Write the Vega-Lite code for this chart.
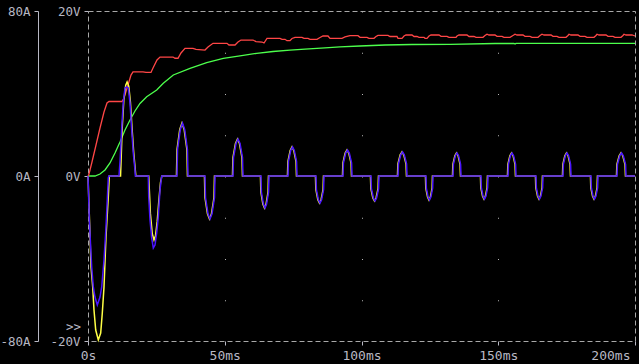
{
  "$schema": "https://vega.github.io/schema/vega-lite/v6.json",
  "width": 547,
  "height": 330,
  "autosize": {"type": "none"},
  "padding": {"left": 88, "top": 11, "right": 4, "bottom": 23},
  "background": "#000000",
  "config": {
    "view": {"stroke": "#a8a8a8", "strokeDash": [5, 3], "strokeWidth": 1},
    "axis": {
      "labelFont": "DejaVu Sans Mono",
      "labelFontSize": 12.5,
      "labelColor": "#b8b8c4",
      "tickColor": "#b8b8c4",
      "domainColor": "#b8b8c4",
      "tickSize": 4,
      "labelPadding": 4,
      "titleFont": "DejaVu Sans Mono",
      "titleColor": "#b8b8c4"
    }
  },
  "datasets": {
    "green": [
      {"t":0,"v":0},{"t":2.56,"v":0},{"t":4.39,"v":0.24},{"t":6.22,"v":0.73},{"t":8.04,"v":1.58},{"t":9.87,"v":2.79},{"t":11.70,"v":4.12},{"t":13.53,"v":5.58},{"t":15.36,"v":6.79},{"t":17.18,"v":7.88},{"t":19.01,"v":8.79},{"t":21.46,"v":9.61},{"t":25.12,"v":10.42},{"t":27.53,"v":11.24},{"t":31.19,"v":12.24},{"t":37.29,"v":13.05},{"t":43.40,"v":13.73},{"t":49.47,"v":14.27},{"t":55.57,"v":14.55},{"t":61.68,"v":14.87},{"t":67.64,"v":15.09},{"t":73.86,"v":15.27},{"t":79.34,"v":15.39},{"t":86.65,"v":15.52},{"t":92.14,"v":15.64},{"t":99.45,"v":15.76},{"t":108.59,"v":15.88},{"t":118.46,"v":15.94},{"t":132.36,"v":15.96},{"t":148.81,"v":16.06},{"t":155.76,"v":16.06},{"t":156.13,"v":16.00},{"t":156.49,"v":16.08},{"t":200,"v":16.08}
    ],
    "red": [
      {"t":0,"v":0},{"t":0.37,"v":0.24},{"t":1.46,"v":1.70},{"t":2.93,"v":3.76},{"t":4.39,"v":5.82},{"t":5.85,"v":7.76},{"t":6.95,"v":8.85},{"t":7.68,"v":9.03},{"t":12.43,"v":9.03},{"t":13.16,"v":9.45},{"t":14.63,"v":11.03},{"t":15.72,"v":12.24},{"t":16.45,"v":12.61},{"t":20.11,"v":12.61},{"t":21.21,"v":12.55},{"t":23.03,"v":12.55},{"t":23.77,"v":13.09},{"t":25.23,"v":14.06},{"t":26.33,"v":14.42},{"t":31.08,"v":14.42},{"t":31.81,"v":14.27},{"t":32.91,"v":14.27},{"t":34.00,"v":14.91},{"t":35.47,"v":15.48},{"t":38.39,"v":15.48},{"t":39.49,"v":15.36},{"t":42.78,"v":15.27},{"t":43.88,"v":15.64},{"t":45.70,"v":16.08},{"t":50.82,"v":16.08},{"t":51.55,"v":15.88},{"t":53.75,"v":15.88},{"t":54.84,"v":16.24},{"t":55.94,"v":16.48},{"t":60.33,"v":16.48},{"t":61.43,"v":16.28},{"t":63.62,"v":16.24},{"t":64.35,"v":16.12},{"t":65.45,"v":16.69},{"t":70.20,"v":16.69},{"t":70.93,"v":16.57},{"t":72.03,"v":16.57},{"t":72.76,"v":16.40},{"t":73.86,"v":16.40},{"t":74.59,"v":16.67},{"t":75.69,"v":16.81},{"t":78.24,"v":16.81},{"t":78.98,"v":16.69},{"t":80.44,"v":16.69},{"t":81.17,"v":16.57},{"t":83.73,"v":16.57},{"t":84.83,"v":16.79},{"t":85.92,"v":16.97},{"t":87.75,"v":16.97},{"t":88.48,"v":16.69},{"t":92.87,"v":16.69},{"t":93.97,"v":16.85},{"t":95.80,"v":17.01},{"t":98.72,"v":17.01},{"t":99.45,"v":16.81},{"t":102.01,"v":16.81},{"t":102.74,"v":16.69},{"t":104.57,"v":16.69},{"t":105.30,"v":16.91},{"t":106.03,"v":17.05},{"t":109.69,"v":17.05},{"t":110.42,"v":16.91},{"t":112.98,"v":16.91},{"t":113.35,"v":16.69},{"t":114.81,"v":16.69},{"t":115.54,"v":16.97},{"t":116.27,"v":17.09},{"t":118.46,"v":17.09},{"t":119.20,"v":16.91},{"t":120.29,"v":16.91},{"t":121.02,"v":16.81},{"t":122.85,"v":16.81},{"t":123.22,"v":16.69},{"t":123.95,"v":16.69},{"t":124.68,"v":16.97},{"t":125.41,"v":17.09},{"t":128.34,"v":17.09},{"t":129.07,"v":16.93},{"t":131.26,"v":16.93},{"t":131.99,"v":16.81},{"t":134.55,"v":16.81},{"t":134.92,"v":16.97},{"t":135.65,"v":17.09},{"t":138.57,"v":17.09},{"t":139.31,"v":16.91},{"t":141.13,"v":16.91},{"t":141.86,"v":16.81},{"t":144.42,"v":16.81},{"t":145.15,"v":17.03},{"t":145.89,"v":17.18},{"t":146.62,"v":17.09},{"t":148.81,"v":17.09},{"t":149.54,"v":16.93},{"t":151.37,"v":16.93},{"t":152.10,"v":16.81},{"t":154.30,"v":16.81},{"t":155.39,"v":17.03},{"t":156.13,"v":17.18},{"t":156.86,"v":17.09},{"t":159.05,"v":17.09},{"t":159.78,"v":16.93},{"t":161.61,"v":16.93},{"t":162.34,"v":16.81},{"t":164.53,"v":16.81},{"t":165.27,"v":17.03},{"t":166.00,"v":17.18},{"t":166.73,"v":17.09},{"t":169.29,"v":17.09},{"t":170.02,"v":16.93},{"t":171.48,"v":16.93},{"t":172.21,"v":16.81},{"t":174.77,"v":16.81},{"t":175.50,"v":17.03},{"t":175.87,"v":17.18},{"t":176.60,"v":17.09},{"t":179.16,"v":17.09},{"t":179.89,"v":16.93},{"t":181.72,"v":16.93},{"t":182.45,"v":16.81},{"t":185.01,"v":16.81},{"t":185.74,"v":17.03},{"t":186.11,"v":17.18},{"t":186.84,"v":17.09},{"t":189.40,"v":17.09},{"t":190.13,"v":16.93},{"t":191.96,"v":16.93},{"t":192.69,"v":16.81},{"t":194.88,"v":16.81},{"t":195.61,"v":17.03},{"t":195.98,"v":17.18},{"t":196.71,"v":17.09},{"t":198.90,"v":17.09},{"t":200,"v":16.97}
    ],
    "yellow": [
      {"t":0,"v":0},{"t":0.55,"v":-5.33},{"t":1.10,"v":-11.03},{"t":1.72,"v":-13.45},{"t":2.19,"v":-16.24},{"t":2.82,"v":-18.67},{"t":3.77,"v":-19.88},{"t":4.64,"v":-19.03},{"t":5.23,"v":-16.61},{"t":5.85,"v":-13.45},{"t":6.58,"v":-7.39},{"t":7.42,"v":-2.55},{"t":7.79,"v":0},
      {"t":11.9,"v":0},{"t":12.5,"v":5.8},{"t":13.1,"v":9.2},{"t":13.8,"v":11.0},{"t":14.3,"v":11.39},{"t":14.9,"v":10.9},{"t":15.5,"v":9.0},{"t":16.1,"v":5.8},{"t":16.7,"v":2.9},{"t":17.3,"v":0.7},{"t":17.5,"v":0},
      {"t":22.2,"v":0},{"t":22.8,"v":-4.5},{"t":23.5,"v":-7.0},{"t":24.13,"v":-7.76},{"t":24.7,"v":-7.2},{"t":25.3,"v":-5.5},{"t":25.9,"v":-3.0},{"t":26.5,"v":-0.8},{"t":27.0,"v":0},
      {"t":32.34,"v":0},{"t":32.54,"v":3.21},{"t":33.55,"v":5.65},{"t":34.35,"v":6.42},{"t":35.15,"v":5.65},{"t":36.16,"v":3.21},{"t":36.36,"v":0},
      {"t":42.58,"v":0},{"t":42.76,"v":-2.61},{"t":43.68,"v":-4.58},{"t":44.41,"v":-5.21},{"t":45.14,"v":-4.58},{"t":46.06,"v":-2.61},{"t":46.24,"v":0},
      {"t":52.82,"v":0},{"t":53.00,"v":2.24},{"t":53.92,"v":3.94},{"t":54.65,"v":4.48},{"t":55.38,"v":3.94},{"t":56.29,"v":2.24},{"t":56.47,"v":0},
      {"t":63.05,"v":0},{"t":63.20,"v":-1.94},{"t":63.93,"v":-3.41},{"t":64.52,"v":-3.88},{"t":65.10,"v":-3.41},{"t":65.83,"v":-1.94},{"t":65.98,"v":0},
      {"t":72.93,"v":0},{"t":73.09,"v":1.76},{"t":73.92,"v":3.10},{"t":74.58,"v":3.52},{"t":75.23,"v":3.10},{"t":76.06,"v":1.76},{"t":76.22,"v":0},
      {"t":83.16,"v":0},{"t":83.31,"v":-1.64},{"t":84.04,"v":-2.88},{"t":84.63,"v":-3.27},{"t":85.21,"v":-2.88},{"t":85.94,"v":-1.64},{"t":86.09,"v":0},
      {"t":93.04,"v":0},{"t":93.20,"v":1.58},{"t":94.03,"v":2.77},{"t":94.69,"v":3.15},{"t":95.34,"v":2.77},{"t":96.17,"v":1.58},{"t":96.33,"v":0},
      {"t":103.27,"v":0},{"t":103.42,"v":-1.52},{"t":104.15,"v":-2.67},{"t":104.74,"v":-3.03},{"t":105.32,"v":-2.67},{"t":106.05,"v":-1.52},{"t":106.20,"v":0},
      {"t":113.15,"v":0},{"t":113.31,"v":1.46},{"t":114.14,"v":2.56},{"t":114.80,"v":2.91},{"t":115.45,"v":2.56},{"t":116.28,"v":1.46},{"t":116.44,"v":0},
      {"t":123.38,"v":0},{"t":123.51,"v":-1.46},{"t":124.15,"v":-2.56},{"t":124.66,"v":-2.91},{"t":125.17,"v":-2.56},{"t":125.81,"v":-1.46},{"t":125.94,"v":0},
      {"t":133.26,"v":0},{"t":133.41,"v":1.40},{"t":134.14,"v":2.46},{"t":134.72,"v":2.79},{"t":135.30,"v":2.46},{"t":136.03,"v":1.40},{"t":136.18,"v":0},
      {"t":143.49,"v":0},{"t":143.62,"v":-1.40},{"t":144.26,"v":-2.46},{"t":144.77,"v":-2.79},{"t":145.28,"v":-2.46},{"t":145.92,"v":-1.40},{"t":146.05,"v":0},
      {"t":153.37,"v":0},{"t":153.52,"v":1.40},{"t":154.25,"v":2.46},{"t":154.83,"v":2.79},{"t":155.41,"v":2.46},{"t":156.14,"v":1.40},{"t":156.29,"v":0},
      {"t":163.60,"v":0},{"t":163.73,"v":-1.40},{"t":164.37,"v":-2.46},{"t":164.88,"v":-2.79},{"t":165.39,"v":-2.46},{"t":166.03,"v":-1.40},{"t":166.16,"v":0},
      {"t":173.47,"v":0},{"t":173.62,"v":1.40},{"t":174.35,"v":2.46},{"t":174.94,"v":2.79},{"t":175.52,"v":2.46},{"t":176.25,"v":1.40},{"t":176.40,"v":0},
      {"t":183.71,"v":0},{"t":183.84,"v":-1.40},{"t":184.48,"v":-2.46},{"t":184.99,"v":-2.79},{"t":185.50,"v":-2.46},{"t":186.14,"v":-1.40},{"t":186.27,"v":0},
      {"t":193.22,"v":0},{"t":193.38,"v":1.40},{"t":194.21,"v":2.46},{"t":194.87,"v":2.79},{"t":195.52,"v":2.46},{"t":196.35,"v":1.40},{"t":196.51,"v":0},
      {"t":200,"v":0}
    ],
    "blue": [
      {"t":0,"v":0},{"t":0.48,"v":-5.33},{"t":1.35,"v":-11.03},{"t":1.94,"v":-13.45},{"t":2.56,"v":-14.67},{"t":3.40,"v":-15.64},{"t":4.39,"v":-14.67},{"t":5.01,"v":-13.45},{"t":5.85,"v":-10.18},{"t":6.58,"v":-6.18},{"t":7.42,"v":-0.24},{"t":7.6,"v":0},
      {"t":11.33,"v":0},{"t":11.75,"v":2.0},{"t":12.32,"v":5.82},{"t":12.91,"v":8.97},{"t":13.53,"v":10.67},{"t":14.15,"v":10.79},{"t":14.73,"v":10.67},{"t":15.36,"v":8.85},{"t":15.98,"v":5.58},{"t":16.56,"v":2.79},{"t":17.18,"v":0.73},{"t":17.3,"v":0},
      {"t":22.05,"v":0},{"t":22.2,"v":-2.55},{"t":22.67,"v":-5.33},{"t":23.29,"v":-7.52},{"t":23.88,"v":-8.73},{"t":24.50,"v":-8.36},{"t":25.12,"v":-6.91},{"t":25.70,"v":-4.97},{"t":26.33,"v":-1.70},{"t":26.95,"v":0},
      {"t":32.54,"v":0},{"t":32.74,"v":3.21},{"t":33.75,"v":5.65},{"t":34.55,"v":6.42},{"t":35.35,"v":5.65},{"t":36.36,"v":3.21},{"t":36.56,"v":0},
      {"t":42.78,"v":0},{"t":42.96,"v":-2.61},{"t":43.88,"v":-4.58},{"t":44.61,"v":-5.21},{"t":45.34,"v":-4.58},{"t":46.26,"v":-2.61},{"t":46.44,"v":0},
      {"t":53.02,"v":0},{"t":53.20,"v":2.24},{"t":54.12,"v":3.94},{"t":54.85,"v":4.48},{"t":55.58,"v":3.94},{"t":56.49,"v":2.24},{"t":56.67,"v":0},
      {"t":63.25,"v":0},{"t":63.40,"v":-1.94},{"t":64.13,"v":-3.41},{"t":64.72,"v":-3.88},{"t":65.30,"v":-3.41},{"t":66.03,"v":-1.94},{"t":66.18,"v":0},
      {"t":73.13,"v":0},{"t":73.29,"v":1.76},{"t":74.12,"v":3.10},{"t":74.78,"v":3.52},{"t":75.43,"v":3.10},{"t":76.26,"v":1.76},{"t":76.42,"v":0},
      {"t":83.36,"v":0},{"t":83.51,"v":-1.64},{"t":84.24,"v":-2.88},{"t":84.83,"v":-3.27},{"t":85.41,"v":-2.88},{"t":86.14,"v":-1.64},{"t":86.29,"v":0},
      {"t":93.24,"v":0},{"t":93.40,"v":1.58},{"t":94.23,"v":2.77},{"t":94.89,"v":3.15},{"t":95.54,"v":2.77},{"t":96.37,"v":1.58},{"t":96.53,"v":0},
      {"t":103.47,"v":0},{"t":103.62,"v":-1.52},{"t":104.35,"v":-2.67},{"t":104.94,"v":-3.03},{"t":105.52,"v":-2.67},{"t":106.25,"v":-1.52},{"t":106.40,"v":0},
      {"t":113.35,"v":0},{"t":113.51,"v":1.46},{"t":114.34,"v":2.56},{"t":115.00,"v":2.91},{"t":115.65,"v":2.56},{"t":116.48,"v":1.46},{"t":116.64,"v":0},
      {"t":123.58,"v":0},{"t":123.71,"v":-1.46},{"t":124.35,"v":-2.56},{"t":124.86,"v":-2.91},{"t":125.37,"v":-2.56},{"t":126.01,"v":-1.46},{"t":126.14,"v":0},
      {"t":133.46,"v":0},{"t":133.61,"v":1.40},{"t":134.34,"v":2.46},{"t":134.92,"v":2.79},{"t":135.50,"v":2.46},{"t":136.23,"v":1.40},{"t":136.38,"v":0},
      {"t":143.69,"v":0},{"t":143.82,"v":-1.40},{"t":144.46,"v":-2.46},{"t":144.97,"v":-2.79},{"t":145.48,"v":-2.46},{"t":146.12,"v":-1.40},{"t":146.25,"v":0},
      {"t":153.57,"v":0},{"t":153.72,"v":1.40},{"t":154.45,"v":2.46},{"t":155.03,"v":2.79},{"t":155.61,"v":2.46},{"t":156.34,"v":1.40},{"t":156.49,"v":0},
      {"t":163.80,"v":0},{"t":163.93,"v":-1.40},{"t":164.57,"v":-2.46},{"t":165.08,"v":-2.79},{"t":165.59,"v":-2.46},{"t":166.23,"v":-1.40},{"t":166.36,"v":0},
      {"t":173.67,"v":0},{"t":173.82,"v":1.40},{"t":174.55,"v":2.46},{"t":175.14,"v":2.79},{"t":175.72,"v":2.46},{"t":176.45,"v":1.40},{"t":176.60,"v":0},
      {"t":183.91,"v":0},{"t":184.04,"v":-1.40},{"t":184.68,"v":-2.46},{"t":185.19,"v":-2.79},{"t":185.70,"v":-2.46},{"t":186.34,"v":-1.40},{"t":186.47,"v":0},
      {"t":193.42,"v":0},{"t":193.58,"v":1.40},{"t":194.41,"v":2.46},{"t":195.07,"v":2.79},{"t":195.72,"v":2.46},{"t":196.55,"v":1.40},{"t":196.71,"v":0},
      {"t":200,"v":0}
    ]
  },
  "layer": [
    {
      "encoding": {
        "x": {
          "field": "t",
          "type": "quantitative",
          "scale": {"domain": [0, 200], "nice": false, "zero": false},
          "axis": {
            "values": [0, 50, 100, 150, 200],
            "labelExpr": "datum.value == 0 ? '0s' : datum.value + 'ms'",
            "domain": false,
            "grid": true,
            "gridDash": [1, 40.25],
            "gridColor": "#b8b8b8",
            "gridOpacity": {"condition": {"test": "datum.value == 0 || datum.value == 200", "value": 0}, "value": 1},
            "labelAlign": {"condition": {"test": "datum.value == 200", "value": "right"}, "value": "center"},
            "labelOffset": {"condition": {"test": "datum.value == 200", "value": -5}, "value": 0},
            "labelFlush": false,
            "labelOverlap": false,
            "labelBound": false,
            "labelFontSize": 13,
            "title": null
          }
        },
        "y": {
          "field": "v",
          "type": "quantitative",
          "scale": {"domain": [-20, 20], "nice": false, "zero": false},
          "axis": {
            "orient": "left",
            "offset": 0,
            "values": [-20, 0, 20],
            "labelExpr": "datum.value + 'V'",
            "domain": false,
            "grid": false,
            "title": ">>",
            "titleAngle": 0,
            "titleX": -15,
            "titleY": 315,
            "titleAlign": "center",
            "titleBaseline": "middle",
            "titleFontSize": 12.5,
            "titleFontWeight": "normal",
            "titlePadding": 0
          }
        }
      },
      "layer": [
        {"data": {"name": "green"}, "mark": {"type": "line", "color": "#4cff4c", "strokeWidth": 1.3}},
        {"data": {"name": "red"}, "mark": {"type": "line", "color": "#ff4646", "strokeWidth": 1.3}},
        {"data": {"name": "yellow"}, "mark": {"type": "line", "color": "#ffff46", "strokeWidth": 1.5}},
        {"data": {"name": "blue"}, "mark": {"type": "line", "color": "#4a14ff", "strokeWidth": 1.5}}
      ]
    },
    {
      "data": {"values": [{"a": -80}, {"a": 80}]},
      "mark": {"type": "point", "opacity": 0},
      "encoding": {
        "y": {
          "field": "a",
          "type": "quantitative",
          "scale": {"domain": [-80, 80], "nice": false, "zero": false},
          "axis": {
            "orient": "left",
            "offset": 50,
            "values": [-80, 0, 80],
            "labelExpr": "datum.value + 'A'",
            "domain": true,
            "grid": false,
            "title": null
          }
        }
      }
    }
  ],
  "resolve": {"scale": {"y": "independent"}, "axis": {"y": "independent"}}
}
